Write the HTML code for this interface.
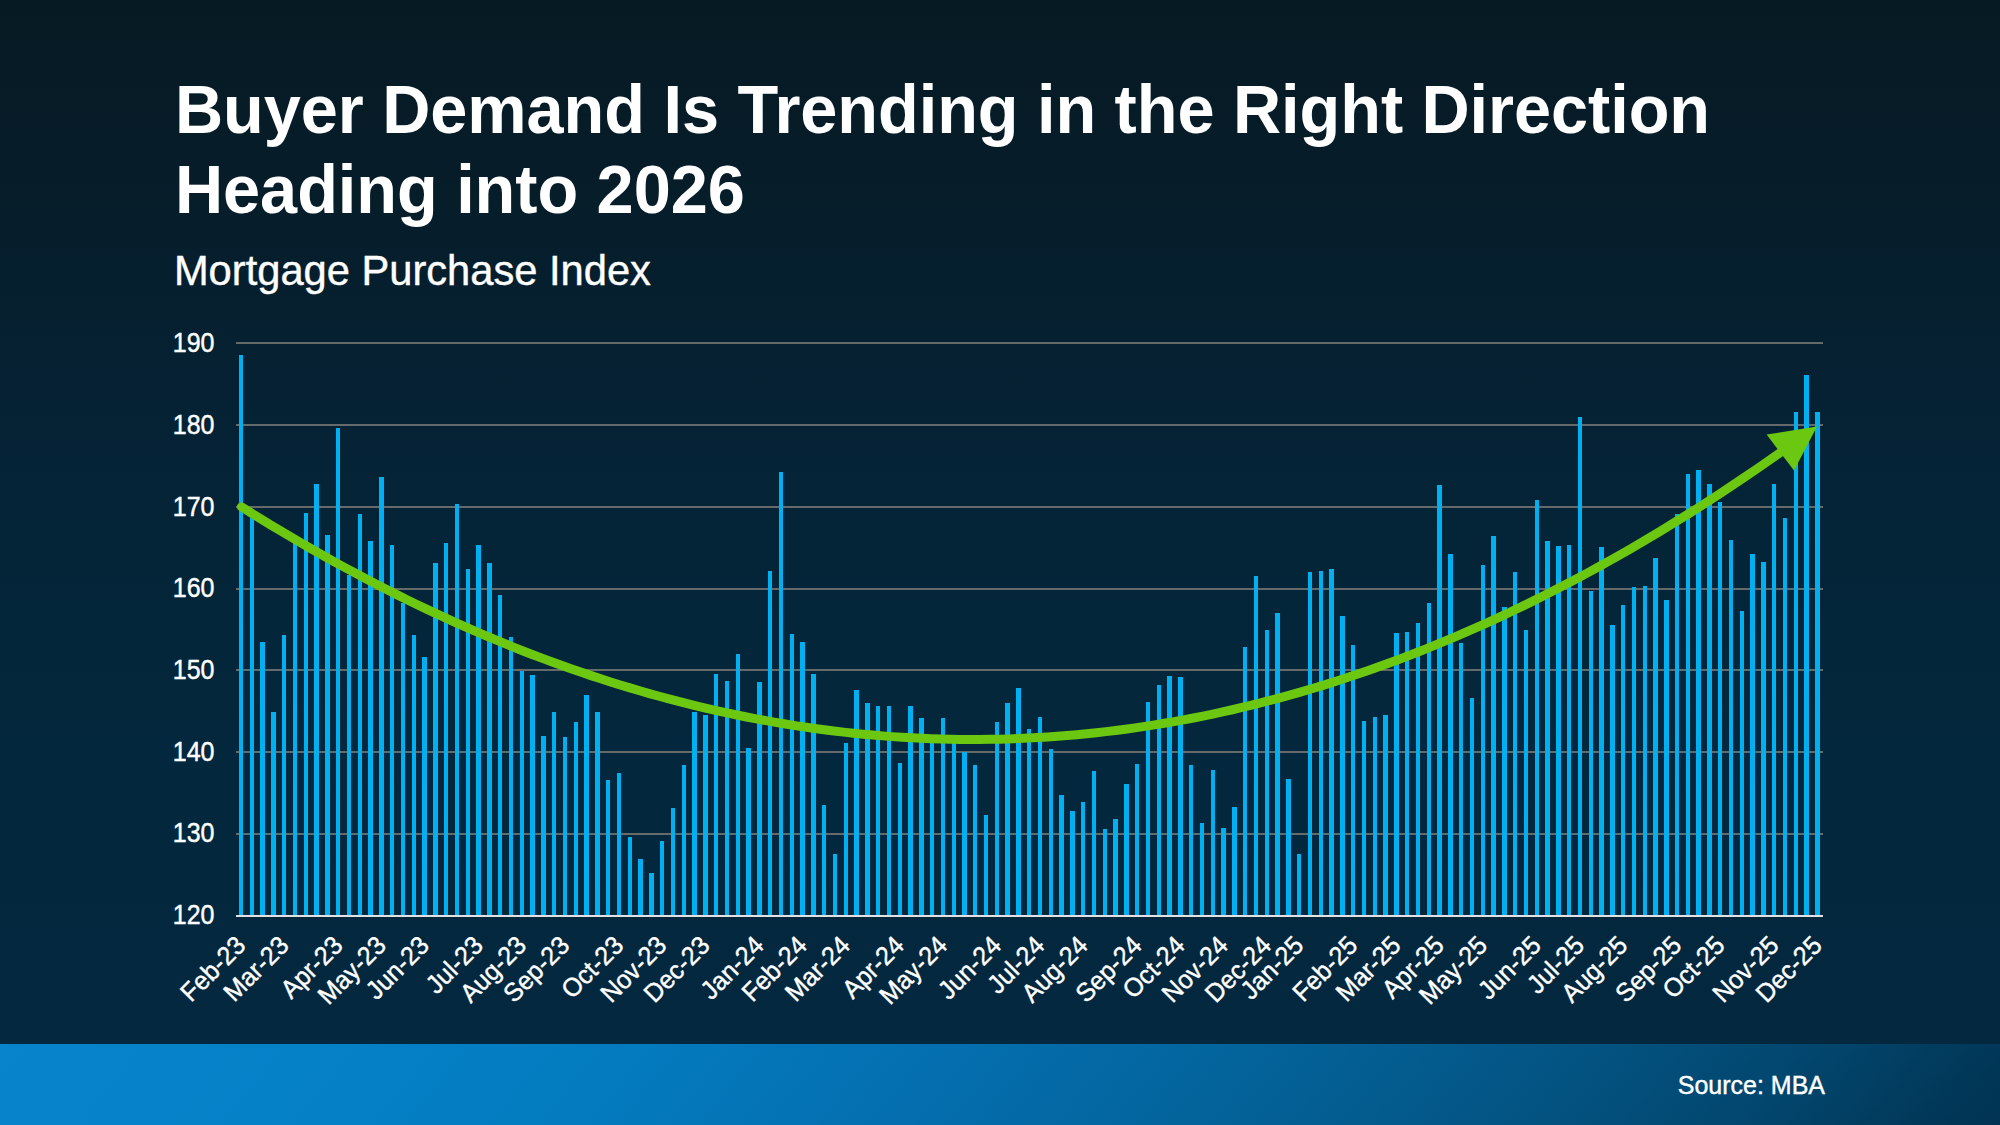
<!DOCTYPE html>
<html><head><meta charset="utf-8"><style>
html,body{margin:0;padding:0;}
body{width:2000px;height:1125px;position:relative;overflow:hidden;
background:linear-gradient(to bottom,#061a23 0%,#061d2a 18%,#052234 36%,#042538 50%,#03283e 73%,#03283f 100%);}
.band{position:absolute;left:0;top:1044px;width:2000px;height:81px;
background:linear-gradient(130deg,#0784cc 0%,#0783cb 2%,#0581c8 15.6%,#037abd 32.2%,#046fb0 45.4%,#03649c 59.9%,#035686 74.4%,#02476f 87.3%,#013656 97.5%,#013454 100%);}
svg{position:absolute;left:0;top:0;}
text{font-family:"Liberation Sans",sans-serif;fill:#fff;}
.tt{font-weight:bold;font-size:66.67px;letter-spacing:-0.04px;}
.st{font-size:41.67px;stroke:#fff;stroke-width:0.4px;}
.src{font-size:25px;stroke:#fff;stroke-width:0.4px;}
.yl{font-size:25px;stroke:#fff;stroke-width:0.4px;}
.xl{font-size:25px;stroke:#fff;stroke-width:0.4px;}
</style></head><body>

<div class="band"></div>
<svg width="2000" height="1125" viewBox="0 0 2000 1125" shape-rendering="crispEdges">
<text transform="translate(175,133) scale(1,1.04)" text-anchor="start" class="tt">Buyer Demand Is Trending in the Right Direction</text>
<text transform="translate(175,213) scale(1,1.04)" text-anchor="start" class="tt">Heading into 2026</text>
<text transform="translate(173.9,285) scale(1,1.04)" text-anchor="start" class="st">Mortgage Purchase Index</text>
<text transform="translate(1825,1094.4) scale(1,1.04)" text-anchor="end" class="src">Source: MBA</text>
<rect x="236" y="342" width="1587" height="2" fill="#676a6a"/>
<rect x="236" y="424" width="1587" height="2" fill="#676a6a"/>
<rect x="236" y="506" width="1587" height="2" fill="#676a6a"/>
<rect x="236" y="588" width="1587" height="2" fill="#676a6a"/>
<rect x="236" y="669" width="1587" height="2" fill="#676a6a"/>
<rect x="236" y="751" width="1587" height="2" fill="#676a6a"/>
<rect x="236" y="833" width="1587" height="2" fill="#676a6a"/>
<rect x="239" y="355" width="4" height="560" fill="#00B0F0"/>
<rect x="250" y="513" width="4" height="402" fill="#00B0F0"/>
<rect x="260" y="642" width="5" height="273" fill="#00B0F0"/>
<rect x="271" y="712" width="5" height="203" fill="#00B0F0"/>
<rect x="282" y="635" width="4" height="280" fill="#00B0F0"/>
<rect x="293" y="539" width="4" height="376" fill="#00B0F0"/>
<rect x="304" y="513" width="4" height="402" fill="#00B0F0"/>
<rect x="314" y="484" width="5" height="431" fill="#00B0F0"/>
<rect x="325" y="535" width="5" height="380" fill="#00B0F0"/>
<rect x="336" y="428" width="4" height="487" fill="#00B0F0"/>
<rect x="347" y="575" width="4" height="340" fill="#00B0F0"/>
<rect x="358" y="514" width="4" height="401" fill="#00B0F0"/>
<rect x="368" y="541" width="5" height="374" fill="#00B0F0"/>
<rect x="379" y="477" width="5" height="438" fill="#00B0F0"/>
<rect x="390" y="545" width="4" height="370" fill="#00B0F0"/>
<rect x="401" y="603" width="4" height="312" fill="#00B0F0"/>
<rect x="412" y="635" width="4" height="280" fill="#00B0F0"/>
<rect x="422" y="657" width="5" height="258" fill="#00B0F0"/>
<rect x="433" y="563" width="5" height="352" fill="#00B0F0"/>
<rect x="444" y="543" width="4" height="372" fill="#00B0F0"/>
<rect x="455" y="504" width="4" height="411" fill="#00B0F0"/>
<rect x="466" y="569" width="4" height="346" fill="#00B0F0"/>
<rect x="476" y="545" width="5" height="370" fill="#00B0F0"/>
<rect x="487" y="563" width="5" height="352" fill="#00B0F0"/>
<rect x="498" y="595" width="4" height="320" fill="#00B0F0"/>
<rect x="509" y="637" width="4" height="278" fill="#00B0F0"/>
<rect x="520" y="671" width="4" height="244" fill="#00B0F0"/>
<rect x="530" y="675" width="5" height="240" fill="#00B0F0"/>
<rect x="541" y="736" width="5" height="179" fill="#00B0F0"/>
<rect x="552" y="712" width="4" height="203" fill="#00B0F0"/>
<rect x="563" y="737" width="4" height="178" fill="#00B0F0"/>
<rect x="574" y="722" width="4" height="193" fill="#00B0F0"/>
<rect x="584" y="695" width="5" height="220" fill="#00B0F0"/>
<rect x="595" y="712" width="5" height="203" fill="#00B0F0"/>
<rect x="606" y="780" width="4" height="135" fill="#00B0F0"/>
<rect x="617" y="773" width="4" height="142" fill="#00B0F0"/>
<rect x="628" y="837" width="4" height="78" fill="#00B0F0"/>
<rect x="638" y="859" width="5" height="56" fill="#00B0F0"/>
<rect x="649" y="873" width="5" height="42" fill="#00B0F0"/>
<rect x="660" y="841" width="4" height="74" fill="#00B0F0"/>
<rect x="671" y="808" width="4" height="107" fill="#00B0F0"/>
<rect x="682" y="765" width="4" height="150" fill="#00B0F0"/>
<rect x="692" y="712" width="5" height="203" fill="#00B0F0"/>
<rect x="703" y="715" width="5" height="200" fill="#00B0F0"/>
<rect x="714" y="674" width="4" height="241" fill="#00B0F0"/>
<rect x="725" y="681" width="4" height="234" fill="#00B0F0"/>
<rect x="736" y="654" width="4" height="261" fill="#00B0F0"/>
<rect x="746" y="748" width="5" height="167" fill="#00B0F0"/>
<rect x="757" y="682" width="5" height="233" fill="#00B0F0"/>
<rect x="768" y="571" width="4" height="344" fill="#00B0F0"/>
<rect x="779" y="472" width="4" height="443" fill="#00B0F0"/>
<rect x="790" y="634" width="4" height="281" fill="#00B0F0"/>
<rect x="800" y="642" width="5" height="273" fill="#00B0F0"/>
<rect x="811" y="674" width="5" height="241" fill="#00B0F0"/>
<rect x="822" y="805" width="4" height="110" fill="#00B0F0"/>
<rect x="833" y="854" width="4" height="61" fill="#00B0F0"/>
<rect x="844" y="743" width="4" height="172" fill="#00B0F0"/>
<rect x="854" y="690" width="5" height="225" fill="#00B0F0"/>
<rect x="865" y="703" width="5" height="212" fill="#00B0F0"/>
<rect x="876" y="706" width="4" height="209" fill="#00B0F0"/>
<rect x="887" y="706" width="4" height="209" fill="#00B0F0"/>
<rect x="898" y="763" width="4" height="152" fill="#00B0F0"/>
<rect x="908" y="706" width="5" height="209" fill="#00B0F0"/>
<rect x="919" y="718" width="5" height="197" fill="#00B0F0"/>
<rect x="930" y="739" width="4" height="176" fill="#00B0F0"/>
<rect x="941" y="718" width="4" height="197" fill="#00B0F0"/>
<rect x="952" y="739" width="4" height="176" fill="#00B0F0"/>
<rect x="962" y="752" width="5" height="163" fill="#00B0F0"/>
<rect x="973" y="765" width="4" height="150" fill="#00B0F0"/>
<rect x="984" y="815" width="4" height="100" fill="#00B0F0"/>
<rect x="995" y="722" width="4" height="193" fill="#00B0F0"/>
<rect x="1005" y="703" width="5" height="212" fill="#00B0F0"/>
<rect x="1016" y="688" width="5" height="227" fill="#00B0F0"/>
<rect x="1027" y="729" width="4" height="186" fill="#00B0F0"/>
<rect x="1038" y="717" width="4" height="198" fill="#00B0F0"/>
<rect x="1049" y="749" width="4" height="166" fill="#00B0F0"/>
<rect x="1059" y="795" width="5" height="120" fill="#00B0F0"/>
<rect x="1070" y="811" width="5" height="104" fill="#00B0F0"/>
<rect x="1081" y="802" width="4" height="113" fill="#00B0F0"/>
<rect x="1092" y="771" width="4" height="144" fill="#00B0F0"/>
<rect x="1103" y="829" width="4" height="86" fill="#00B0F0"/>
<rect x="1113" y="819" width="5" height="96" fill="#00B0F0"/>
<rect x="1124" y="784" width="5" height="131" fill="#00B0F0"/>
<rect x="1135" y="764" width="4" height="151" fill="#00B0F0"/>
<rect x="1146" y="702" width="4" height="213" fill="#00B0F0"/>
<rect x="1157" y="685" width="4" height="230" fill="#00B0F0"/>
<rect x="1167" y="676" width="5" height="239" fill="#00B0F0"/>
<rect x="1178" y="677" width="5" height="238" fill="#00B0F0"/>
<rect x="1189" y="765" width="4" height="150" fill="#00B0F0"/>
<rect x="1200" y="823" width="4" height="92" fill="#00B0F0"/>
<rect x="1211" y="770" width="4" height="145" fill="#00B0F0"/>
<rect x="1221" y="828" width="5" height="87" fill="#00B0F0"/>
<rect x="1232" y="807" width="5" height="108" fill="#00B0F0"/>
<rect x="1243" y="647" width="4" height="268" fill="#00B0F0"/>
<rect x="1254" y="576" width="4" height="339" fill="#00B0F0"/>
<rect x="1265" y="630" width="4" height="285" fill="#00B0F0"/>
<rect x="1275" y="613" width="5" height="302" fill="#00B0F0"/>
<rect x="1286" y="779" width="5" height="136" fill="#00B0F0"/>
<rect x="1297" y="854" width="4" height="61" fill="#00B0F0"/>
<rect x="1308" y="572" width="4" height="343" fill="#00B0F0"/>
<rect x="1319" y="571" width="4" height="344" fill="#00B0F0"/>
<rect x="1329" y="569" width="5" height="346" fill="#00B0F0"/>
<rect x="1340" y="616" width="5" height="299" fill="#00B0F0"/>
<rect x="1351" y="645" width="4" height="270" fill="#00B0F0"/>
<rect x="1362" y="721" width="4" height="194" fill="#00B0F0"/>
<rect x="1373" y="717" width="4" height="198" fill="#00B0F0"/>
<rect x="1383" y="715" width="5" height="200" fill="#00B0F0"/>
<rect x="1394" y="633" width="5" height="282" fill="#00B0F0"/>
<rect x="1405" y="632" width="4" height="283" fill="#00B0F0"/>
<rect x="1416" y="623" width="4" height="292" fill="#00B0F0"/>
<rect x="1427" y="603" width="4" height="312" fill="#00B0F0"/>
<rect x="1437" y="485" width="5" height="430" fill="#00B0F0"/>
<rect x="1448" y="554" width="5" height="361" fill="#00B0F0"/>
<rect x="1459" y="643" width="4" height="272" fill="#00B0F0"/>
<rect x="1470" y="698" width="4" height="217" fill="#00B0F0"/>
<rect x="1481" y="565" width="4" height="350" fill="#00B0F0"/>
<rect x="1491" y="536" width="5" height="379" fill="#00B0F0"/>
<rect x="1502" y="607" width="5" height="308" fill="#00B0F0"/>
<rect x="1513" y="572" width="4" height="343" fill="#00B0F0"/>
<rect x="1524" y="630" width="4" height="285" fill="#00B0F0"/>
<rect x="1535" y="500" width="4" height="415" fill="#00B0F0"/>
<rect x="1545" y="541" width="5" height="374" fill="#00B0F0"/>
<rect x="1556" y="546" width="5" height="369" fill="#00B0F0"/>
<rect x="1567" y="545" width="4" height="370" fill="#00B0F0"/>
<rect x="1578" y="417" width="4" height="498" fill="#00B0F0"/>
<rect x="1589" y="591" width="4" height="324" fill="#00B0F0"/>
<rect x="1599" y="547" width="5" height="368" fill="#00B0F0"/>
<rect x="1610" y="625" width="5" height="290" fill="#00B0F0"/>
<rect x="1621" y="605" width="4" height="310" fill="#00B0F0"/>
<rect x="1632" y="587" width="4" height="328" fill="#00B0F0"/>
<rect x="1643" y="586" width="4" height="329" fill="#00B0F0"/>
<rect x="1653" y="558" width="5" height="357" fill="#00B0F0"/>
<rect x="1664" y="600" width="5" height="315" fill="#00B0F0"/>
<rect x="1675" y="514" width="4" height="401" fill="#00B0F0"/>
<rect x="1686" y="474" width="4" height="441" fill="#00B0F0"/>
<rect x="1696" y="470" width="5" height="445" fill="#00B0F0"/>
<rect x="1707" y="484" width="5" height="431" fill="#00B0F0"/>
<rect x="1718" y="502" width="4" height="413" fill="#00B0F0"/>
<rect x="1729" y="540" width="4" height="375" fill="#00B0F0"/>
<rect x="1740" y="611" width="4" height="304" fill="#00B0F0"/>
<rect x="1750" y="554" width="5" height="361" fill="#00B0F0"/>
<rect x="1761" y="562" width="5" height="353" fill="#00B0F0"/>
<rect x="1772" y="484" width="4" height="431" fill="#00B0F0"/>
<rect x="1783" y="518" width="4" height="397" fill="#00B0F0"/>
<rect x="1794" y="412" width="4" height="503" fill="#00B0F0"/>
<rect x="1804" y="375" width="5" height="540" fill="#00B0F0"/>
<rect x="1815" y="412" width="5" height="503" fill="#00B0F0"/>
<rect x="236" y="915" width="1587" height="2" fill="#E2E2E2"/>
<text transform="translate(214.5,924.0) scale(1,1.07)" text-anchor="end" class="yl">120</text>
<text transform="translate(214.5,842.3) scale(1,1.07)" text-anchor="end" class="yl">130</text>
<text transform="translate(214.5,760.6) scale(1,1.07)" text-anchor="end" class="yl">140</text>
<text transform="translate(214.5,678.9) scale(1,1.07)" text-anchor="end" class="yl">150</text>
<text transform="translate(214.5,597.2) scale(1,1.07)" text-anchor="end" class="yl">160</text>
<text transform="translate(214.5,515.5) scale(1,1.07)" text-anchor="end" class="yl">170</text>
<text transform="translate(214.5,433.8) scale(1,1.07)" text-anchor="end" class="yl">180</text>
<text transform="translate(214.5,352.1) scale(1,1.07)" text-anchor="end" class="yl">190</text>
<text transform="translate(247.1,947) rotate(-45) scale(1,1.04)" text-anchor="end" class="xl">Feb-23</text>
<text transform="translate(290.3,947) rotate(-45) scale(1,1.04)" text-anchor="end" class="xl">Mar-23</text>
<text transform="translate(344.3,947) rotate(-45) scale(1,1.04)" text-anchor="end" class="xl">Apr-23</text>
<text transform="translate(387.5,947) rotate(-45) scale(1,1.04)" text-anchor="end" class="xl">May-23</text>
<text transform="translate(430.6,947) rotate(-45) scale(1,1.04)" text-anchor="end" class="xl">Jun-23</text>
<text transform="translate(484.6,947) rotate(-45) scale(1,1.04)" text-anchor="end" class="xl">Jul-23</text>
<text transform="translate(527.8,947) rotate(-45) scale(1,1.04)" text-anchor="end" class="xl">Aug-23</text>
<text transform="translate(571.0,947) rotate(-45) scale(1,1.04)" text-anchor="end" class="xl">Sep-23</text>
<text transform="translate(625.0,947) rotate(-45) scale(1,1.04)" text-anchor="end" class="xl">Oct-23</text>
<text transform="translate(668.2,947) rotate(-45) scale(1,1.04)" text-anchor="end" class="xl">Nov-23</text>
<text transform="translate(711.4,947) rotate(-45) scale(1,1.04)" text-anchor="end" class="xl">Dec-23</text>
<text transform="translate(765.4,947) rotate(-45) scale(1,1.04)" text-anchor="end" class="xl">Jan-24</text>
<text transform="translate(808.5,947) rotate(-45) scale(1,1.04)" text-anchor="end" class="xl">Feb-24</text>
<text transform="translate(851.7,947) rotate(-45) scale(1,1.04)" text-anchor="end" class="xl">Mar-24</text>
<text transform="translate(905.7,947) rotate(-45) scale(1,1.04)" text-anchor="end" class="xl">Apr-24</text>
<text transform="translate(948.9,947) rotate(-45) scale(1,1.04)" text-anchor="end" class="xl">May-24</text>
<text transform="translate(1002.9,947) rotate(-45) scale(1,1.04)" text-anchor="end" class="xl">Jun-24</text>
<text transform="translate(1046.1,947) rotate(-45) scale(1,1.04)" text-anchor="end" class="xl">Jul-24</text>
<text transform="translate(1089.3,947) rotate(-45) scale(1,1.04)" text-anchor="end" class="xl">Aug-24</text>
<text transform="translate(1143.3,947) rotate(-45) scale(1,1.04)" text-anchor="end" class="xl">Sep-24</text>
<text transform="translate(1186.4,947) rotate(-45) scale(1,1.04)" text-anchor="end" class="xl">Oct-24</text>
<text transform="translate(1229.6,947) rotate(-45) scale(1,1.04)" text-anchor="end" class="xl">Nov-24</text>
<text transform="translate(1272.8,947) rotate(-45) scale(1,1.04)" text-anchor="end" class="xl">Dec-24</text>
<text transform="translate(1305.2,947) rotate(-45) scale(1,1.04)" text-anchor="end" class="xl">Jan-25</text>
<text transform="translate(1359.2,947) rotate(-45) scale(1,1.04)" text-anchor="end" class="xl">Feb-25</text>
<text transform="translate(1402.4,947) rotate(-45) scale(1,1.04)" text-anchor="end" class="xl">Mar-25</text>
<text transform="translate(1445.6,947) rotate(-45) scale(1,1.04)" text-anchor="end" class="xl">Apr-25</text>
<text transform="translate(1488.8,947) rotate(-45) scale(1,1.04)" text-anchor="end" class="xl">May-25</text>
<text transform="translate(1542.7,947) rotate(-45) scale(1,1.04)" text-anchor="end" class="xl">Jun-25</text>
<text transform="translate(1585.9,947) rotate(-45) scale(1,1.04)" text-anchor="end" class="xl">Jul-25</text>
<text transform="translate(1629.1,947) rotate(-45) scale(1,1.04)" text-anchor="end" class="xl">Aug-25</text>
<text transform="translate(1683.1,947) rotate(-45) scale(1,1.04)" text-anchor="end" class="xl">Sep-25</text>
<text transform="translate(1726.3,947) rotate(-45) scale(1,1.04)" text-anchor="end" class="xl">Oct-25</text>
<text transform="translate(1780.3,947) rotate(-45) scale(1,1.04)" text-anchor="end" class="xl">Nov-25</text>
<text transform="translate(1823.5,947) rotate(-45) scale(1,1.04)" text-anchor="end" class="xl">Dec-25</text>
<path d="M241.4,506.81 L251.1,512.90 L260.8,518.90 L270.5,524.82 L280.3,530.67 L290.0,536.43 L299.7,542.12 L309.4,547.73 L319.1,553.26 L328.8,558.71 L338.5,564.08 L348.3,569.37 L358.0,574.58 L367.7,579.71 L377.4,584.77 L387.1,589.74 L396.8,594.63 L406.5,599.45 L416.3,604.18 L426.0,608.84 L435.7,613.41 L445.4,617.90 L455.1,622.31 L464.8,626.65 L474.5,630.90 L484.3,635.07 L494.0,639.16 L503.7,643.17 L513.4,647.10 L523.1,650.95 L532.8,654.72 L542.5,658.40 L552.3,662.01 L562.0,665.53 L571.7,668.98 L581.4,672.34 L591.1,675.62 L600.8,678.82 L610.5,681.93 L620.3,684.97 L630.0,687.92 L639.7,690.79 L649.4,693.58 L659.1,696.29 L668.8,698.92 L678.6,701.46 L688.3,703.93 L698.0,706.31 L707.7,708.61 L717.4,710.82 L727.1,712.96 L736.8,715.01 L746.6,716.98 L756.3,718.87 L766.0,720.67 L775.7,722.39 L785.4,724.03 L795.1,725.59 L804.8,727.07 L814.6,728.46 L824.3,729.77 L834.0,730.99 L843.7,732.14 L853.4,733.20 L863.1,734.18 L872.8,735.07 L882.6,735.89 L892.3,736.62 L902.0,737.26 L911.7,737.83 L921.4,738.31 L931.1,738.70 L940.8,739.02 L950.6,739.25 L960.3,739.40 L970.0,739.46 L979.7,739.45 L989.4,739.35 L999.1,739.16 L1008.8,738.89 L1018.6,738.54 L1028.3,738.11 L1038.0,737.59 L1047.7,736.99 L1057.4,736.31 L1067.1,735.54 L1076.8,734.69 L1086.6,733.76 L1096.3,732.74 L1106.0,731.64 L1115.7,730.46 L1125.4,729.19 L1135.1,727.84 L1144.8,726.41 L1154.6,724.89 L1164.3,723.29 L1174.0,721.61 L1183.7,719.84 L1193.4,717.99 L1203.1,716.06 L1212.8,714.04 L1222.6,711.94 L1232.3,709.76 L1242.0,707.49 L1251.7,705.14 L1261.4,702.71 L1271.1,700.19 L1280.8,697.59 L1290.6,694.91 L1300.3,692.14 L1310.0,689.29 L1319.7,686.36 L1329.4,683.34 L1339.1,680.25 L1348.8,677.06 L1358.6,673.80 L1368.3,670.45 L1378.0,667.02 L1387.7,663.51 L1397.4,659.91 L1407.1,656.23 L1416.9,652.47 L1426.6,648.62 L1436.3,644.69 L1446.0,640.68 L1455.7,636.59 L1465.4,632.41 L1475.1,628.15 L1484.9,623.81 L1494.6,619.38 L1504.3,614.88 L1514.0,610.29 L1523.7,605.62 L1533.4,600.86 L1543.1,596.02 L1552.9,591.10 L1562.6,586.10 L1572.3,581.02 L1582.0,575.85 L1591.7,570.60 L1601.4,565.27 L1611.1,559.86 L1620.9,554.37 L1630.6,548.79 L1640.3,543.13 L1650.0,537.39 L1659.7,531.57 L1669.4,525.67 L1679.1,519.68 L1688.9,513.62 L1698.6,507.47 L1708.3,501.24 L1718.0,494.93 L1727.7,488.54 L1737.4,482.07 L1747.1,475.51 L1756.9,468.88 L1766.6,462.16 L1776.3,455.36 L1786.0,448.48" fill="none" stroke="#6CC711" stroke-width="9" stroke-linecap="round" stroke-linejoin="round" shape-rendering="geometricPrecision"/>
<polygon points="1817,426.6 1766.6,434.6 1794,470.5" fill="#6CC711" shape-rendering="geometricPrecision"/>
</svg>
</body></html>
